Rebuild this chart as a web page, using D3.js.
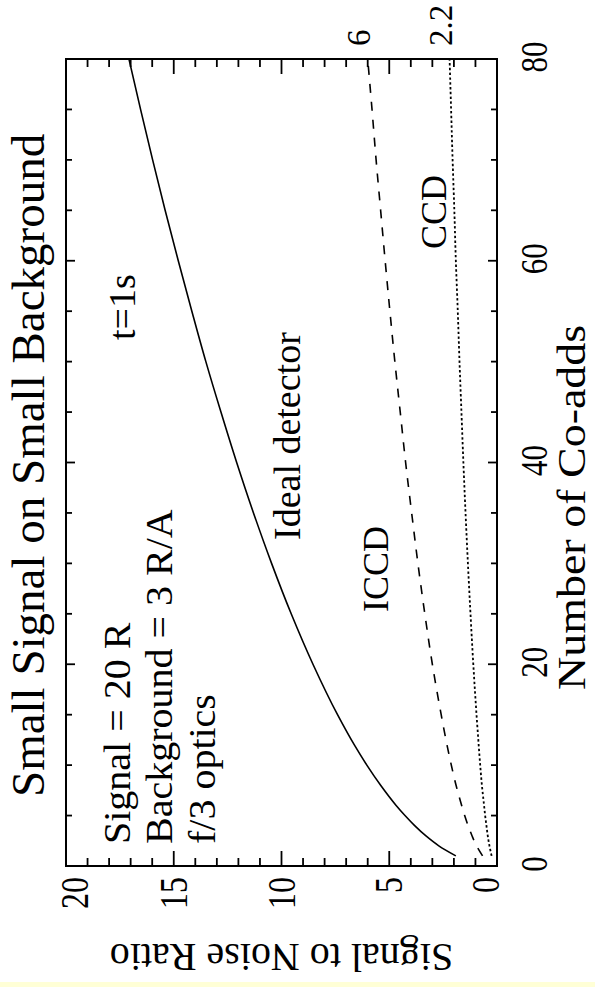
<!DOCTYPE html>
<html>
<head>
<meta charset="utf-8">
<script src="https://cdn.jsdelivr.net/npm/d3@7"></script>
<style>
  html, body { margin: 0; padding: 0; background: #ffffff; }
  svg { display: block; }
  text { font-family: "Liberation Serif", "Times New Roman", serif; fill: #000; }
</style>
</head>
<body>
<script>
// Co-add counts and signal-to-noise ratio for each detector
const coadds = [1, 2, 3, 4, 5, 6, 8, 10, 12, 15, 20, 25, 30, 35, 40, 45, 50, 55, 60, 65, 70, 75, 80];
const ideal  = [1.91, 2.70, 3.31, 3.82, 4.27, 4.68, 5.40, 6.04, 6.62, 7.40, 8.54, 9.55, 10.46, 11.30, 12.08, 12.81, 13.51, 14.16, 14.79, 15.40, 15.98, 16.54, 17.08];
const iccd   = [0.67, 0.95, 1.16, 1.34, 1.50, 1.64, 1.90, 2.12, 2.32, 2.59, 3.00, 3.35, 3.67, 3.96, 4.24, 4.49, 4.74, 4.97, 5.19, 5.40, 5.61, 5.80, 6.00];
const ccd    = [0.25, 0.35, 0.43, 0.49, 0.55, 0.60, 0.70, 0.78, 0.85, 0.95, 1.10, 1.23, 1.35, 1.46, 1.56, 1.65, 1.74, 1.82, 1.91, 1.98, 2.06, 2.13, 2.20];

const coaddTicks = [0, 20, 40, 60, 80];
const snrTicks = [0, 5, 10, 15, 20];
const endLabels = [{ text: "6", value: 6 }, { text: "2.2", value: 2.2 }];

const W = 595, H = 987;
const svg = d3.select("body").append("svg").attr("width", W).attr("height", H);

// landscape plot turned a quarter turn: SNR runs across, co-adds run up
const frame = { left: 66, right: 497, top: 59, bottom: 866 };
const snr = d3.scaleLinear().domain([0, 20]).range([frame.right, frame.left]);
const nco = d3.scaleLinear().domain([0, 80]).range([frame.bottom, frame.top]);

svg.append("rect").attr("x", 0).attr("y", 982).attr("width", W).attr("height", 5).attr("fill", "#ffffd6");

// rotated text (reads bottom-to-top); stretch widens glyph height
function vtext(x, y, str, size, anchor, stretch) {
  return svg.append("text")
    .attr("transform", `translate(${x},${y}) rotate(-90) scale(1,${stretch || 1})`)
    .attr("font-size", size)
    .attr("text-anchor", anchor || "start")
    .text(str);
}

// ticks along the SNR direction (top and bottom edges)
const g = svg.append("g").attr("stroke", "#000").attr("fill", "none");
d3.range(0, 21).forEach(v => {
  const len = v % 5 === 0 ? 15 : 8;
  const x = snr(v);
  g.append("line").attr("x1", x).attr("x2", x).attr("y1", frame.bottom).attr("y2", frame.bottom - len).attr("stroke-width", 1.8);
  g.append("line").attr("x1", x).attr("x2", x).attr("y1", frame.top).attr("y2", frame.top + len).attr("stroke-width", 1.8);
});
// ticks along the co-add direction (left and right edges)
d3.range(0, 81, 5).forEach(v => {
  const len = v % 20 === 0 ? 9 : 6;
  const y = nco(v);
  g.append("line").attr("x1", frame.left).attr("x2", frame.left + len).attr("y1", y).attr("y2", y).attr("stroke-width", 1.8);
  g.append("line").attr("x1", frame.right).attr("x2", frame.right - len).attr("y1", y).attr("y2", y).attr("stroke-width", 1.8);
});

// curves
const line = d3.line().x(d => snr(d[1])).y(d => nco(d[0])).curve(d3.curveMonotoneY);
const series = [
  { vals: ideal, dash: null, w: 1.6 },
  { vals: iccd, dash: "9,9", w: 1.6 },
  { vals: ccd, dash: "2.4,2.4", w: 1.8 }
];
series.forEach(s => {
  svg.append("path")
    .datum(coadds.map((c, i) => [c, s.vals[i]]))
    .attr("d", line)
    .attr("fill", "none")
    .attr("stroke", "#000")
    .attr("stroke-width", s.w)
    .attr("stroke-dasharray", s.dash);
});

// frame
svg.append("rect")
  .attr("x", frame.left).attr("y", frame.top)
  .attr("width", frame.right - frame.left).attr("height", frame.bottom - frame.top)
  .attr("fill", "none").attr("stroke", "#000").attr("stroke-width", 2);

// tick labels
snrTicks.forEach(v => {
  const cx = Math.min(Math.max(snr(v), 75), 486);
  vtext(cx + 13, 877, String(v), 32, "end", 1.22);
});
coaddTicks.forEach(v => {
  vtext(547, nco(v) - 2, String(v), 31, "middle", 1.22);
});

// values reached at the final co-add count
endLabels.forEach(d => {
  vtext(snr(d.value) + 2, 46, d.text, 33, "start", 1.05);
});

// title and axis titles
vtext(44, 797, "Small Signal on Small Background", 47, "start");
vtext(585, 690, "Number of Co-adds", 46, "start", 0.88);
svg.append("text")
  .attr("transform", `translate(${(frame.left + frame.right) / 2},944) rotate(180)`)
  .attr("font-size", 40).attr("text-anchor", "middle")
  .text("Signal to Noise Ratio");

// annotations
vtext(130, 844, "Signal = 20 R", 40, "start", 0.97);
vtext(172, 844, "Background = 3 R/A", 40, "start", 0.97);
vtext(215, 844, "f/3 optics", 40, "start", 0.97);
vtext(135, 340, "t=1s", 38);
vtext(300, 540, "Ideal detector", 38);
vtext(388, 612, "ICCD", 36);
vtext(446, 249, "CCD", 36);
</script>
</body>
</html>
